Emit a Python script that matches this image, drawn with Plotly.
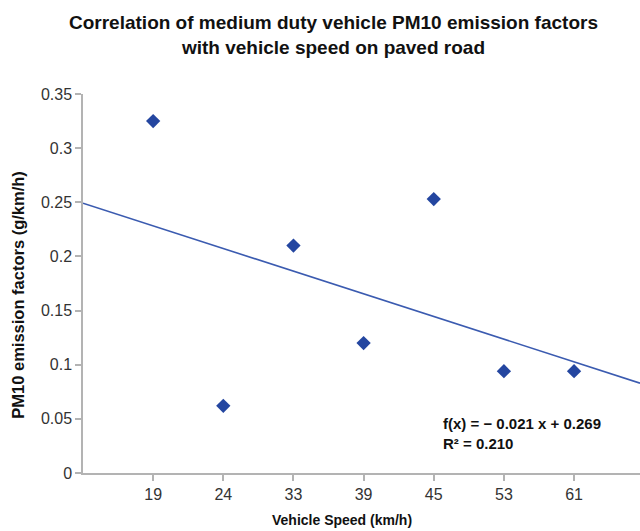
import numpy as np
import plotly.graph_objects as go

# ── data ─────────────────────────────────────────────────────────────────────
speeds = ["19", "24", "33", "39", "45", "53", "61"]
pm10 = [0.325, 0.062, 0.210, 0.120, 0.253, 0.094, 0.094]
y_ticks = [0, 0.05, 0.1, 0.15, 0.2, 0.25, 0.3, 0.35]

FONT = "Liberation Sans, Arial, sans-serif"
BLUE = "#2446a0"
AXIS = "#b3b3b3"

idx = np.arange(1, len(speeds) + 1)
slope, intercept = np.polyfit(idx, pm10, 1)
x_max = 7.94
x_line = np.array([0.0, x_max])

fig = go.Figure()

# linear trend line
fig.add_trace(go.Scatter(
    x=x_line, y=slope * x_line + intercept,
    mode="lines",
    line=dict(color="#3b5bb0", width=1.6),
    showlegend=False, hoverinfo="skip",
))

# data points
fig.add_trace(go.Scatter(
    x=idx, y=pm10,
    mode="markers",
    marker=dict(symbol="diamond", size=11, color=BLUE),
    showlegend=False,
))

# title
fig.add_annotation(
    x=0.449, y=1, xref="paper", yref="paper",
    xanchor="center", yanchor="bottom", yshift=34,
    text="<b>Correlation of medium duty vehicle PM10 emission factors<br>with vehicle speed on paved road</b>",
    showarrow=False,
    font=dict(family=FONT, size=19, color="#111111"),
)

# axis titles
fig.add_annotation(
    x=0.465, y=-0.124, xref="paper", yref="paper",
    xanchor="center", yanchor="middle",
    text="<b>Vehicle Speed (km/h)</b>",
    showarrow=False,
    font=dict(family=FONT, size=14, color="#111111"),
)
fig.add_annotation(
    x=-0.117, y=0.47, xref="paper", yref="paper",
    xanchor="center", yanchor="middle", textangle=-90,
    text="<b>PM10 emission factors (g/km/h)</b>",
    showarrow=False,
    font=dict(family=FONT, size=16.5, color="#111111"),
)

# regression equation
fig.add_annotation(
    x=0.643, y=0.1055, xref="paper", yref="paper",
    xanchor="left", yanchor="middle", align="left",
    text="<b>f(x) = − 0.021 x + 0.269<br>R² = 0.210</b>",
    showarrow=False,
    font=dict(family=FONT, size=15, color="#111111"),
)

fig.update_layout(
    xaxis=dict(
        range=[0, x_max],
        tickvals=idx.tolist(), ticktext=speeds,
        showgrid=False, zeroline=False,
        showline=True, linecolor=AXIS, linewidth=1.5,
        ticks="outside", ticklen=6, tickcolor=AXIS, tickwidth=1.5,
        tickfont=dict(family=FONT, size=16, color="#333333"),
    ),
    yaxis=dict(
        range=[0, 0.35],
        tickvals=y_ticks,
        showgrid=False, zeroline=False,
        showline=True, linecolor=AXIS, linewidth=1.5,
        ticks="outside", ticklen=6, tickcolor=AXIS, tickwidth=1.5,
        tickfont=dict(family=FONT, size=16, color="#333333"),
    ),
    paper_bgcolor="white",
    plot_bgcolor="white",
    width=640, height=531,
    margin=dict(l=83, r=0, t=94, b=58),
)

# drop the default page margin so the figure sits at the window's corner
fig.write_html(
    "out.html",
    config={"displayModeBar": False},
    post_script="document.body.style.margin='0';document.body.style.overflow='hidden';",
)
